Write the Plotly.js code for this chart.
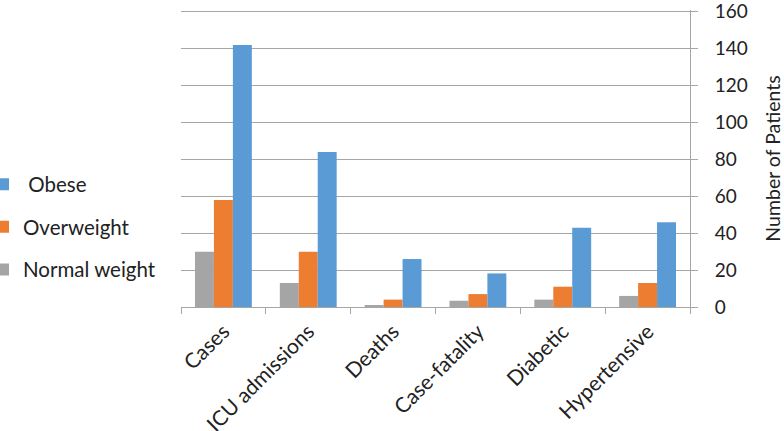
<!DOCTYPE html>
<html><head><meta charset="utf-8">
<script src="https://cdn.plot.ly/plotly-3.0.1.min.js"></script>
<style>html,body{margin:0;padding:0;background:#fff;}#chart{width:784px;height:431px;}</style>
</head><body><div id="chart"></div>
<script>
var categories = ["Cases", "ICU admissions", "Deaths", "Case-fatality", "Diabetic", "Hypertensive"];
var normalWeight = [30, 13, 1, 3.4, 4, 6];
var overweight = [58, 30, 4, 7, 11, 13];
var obese = [142, 84, 26, 18.2, 43, 46];
var yTicks = [0, 20, 40, 60, 80, 100, 120, 140, 160];

var font = "Lato, 'Open Sans', sans-serif";
var fs = 19;
var traces = [
  {type: "bar", name: "Normal weight", x: categories, y: normalWeight, marker: {color: "#a5a5a5"}, legendgroup: "n", legendrank: 3},
  {type: "bar", name: "Overweight", x: categories, y: overweight, marker: {color: "#ed7d31"}, legendgroup: "o", legendrank: 2},
  {type: "bar", name: " Obese", x: categories, y: obese, marker: {color: "#5b9bd5"}, legendgroup: "b", legendrank: 1}
];
var layout = {
  width: 784, height: 431,
  margin: {l: 181, r: 94, t: 10, b: 124, autoexpand: false},
  paper_bgcolor: "#fff", plot_bgcolor: "#fff",
  barmode: "group", bargap: 0.33, bargroupgap: 0,
  font: {family: font, size: fs, color: "#222"},
  showlegend: true,
  legend: {x: -0.389, xref: "paper", xanchor: "left", y: 0.27, yanchor: "middle",
           traceorder: "grouped", bgcolor: "rgba(0,0,0,0)",
           tracegroupgap: 13, font: {family: font, size: 20.5, color: "#222"}, itemwidth: 30},
  xaxis: {tickangle: -45, showline: true, linecolor: "#a6a6a6", linewidth: 1,
          ticks: "outside", tickson: "boundaries", ticklen: 6, tickcolor: "#a6a6a6",
          ticklabelstandoff: 3,
          showgrid: false, tickfont: {family: font, size: 21, color: "#222"}},
  yaxis: {side: "right", range: [0, 161], tickvals: yTicks, showline: true, linecolor: "#a6a6a6",
          ticks: "outside", ticklen: 7, tickcolor: "#a6a6a6", gridcolor: "#a6a6a6", gridwidth: 1,
          ticklabelstandoff: 13, ticklabeloverflow: "allow",
          zeroline: false, tickfont: {family: font, size: fs, color: "#222"},
          title: {text: "Number of Patients", font: {family: font, size: 19.5, color: "#222"}, standoff: 22}}
};
Plotly.newPlot("chart", traces, layout, {displayModeBar: false});
</script></body></html>
